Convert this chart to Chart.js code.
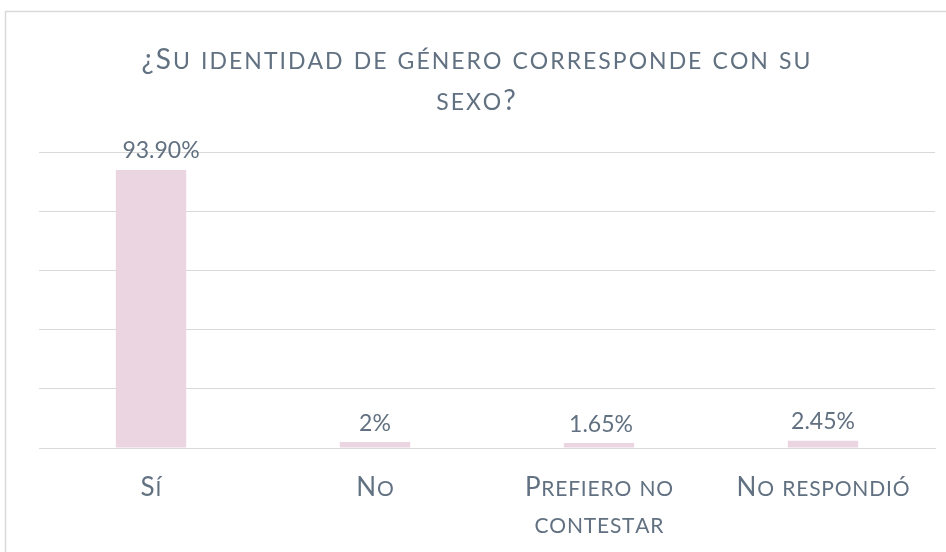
<!DOCTYPE html>
<html><head><meta charset="utf-8">
<script src="https://cdn.jsdelivr.net/npm/chart.js@4"></script>
<style>html,body{margin:0;padding:0;background:#fff}#wrap{width:946px;height:552px;position:relative}</style>
</head><body><div id="wrap"><canvas id="c" width="946" height="552"></canvas></div>
<script>
const titleLines = ['¿Su identidad de género corresponde con su', 'sexo?'];
const categories = [['Sí'], ['No'], ['Prefiero no', 'contestar'], ['No respondió']];
const values = [93.90, 2.00, 1.65, 2.45];
const valueLabels = ['93.90%', '2%', '1.65%', '2.45%'];
const yTicks = [0, 20, 40, 60, 80, 100];

const TEXT = '#617181';
const GRID = '#D9D9D9';
const BAR = '#EBD5E0';
const FAMILY = 'Lato, "Open Sans", sans-serif';
const WEIGHT = '400';

function drawSmallCaps(ctx, text, cx, baseline, capSize, smallSize, spacing) {
  const parts = [...text].map(ch => {
    const up = ch.toUpperCase();
    const size = (ch !== up) ? smallSize : capSize;
    ctx.font = WEIGHT + ' ' + size + 'px ' + FAMILY;
    return { ch: up, size, w: ctx.measureText(up).width };
  });
  const total = parts.reduce((s, p) => s + p.w, 0) + spacing * (parts.length - 1);
  let x = cx - total / 2;
  ctx.textAlign = 'left';
  ctx.textBaseline = 'alphabetic';
  parts.forEach(p => {
    ctx.font = WEIGHT + ' ' + p.size + 'px ' + FAMILY;
    ctx.fillText(p.ch, x, baseline);
    x += p.w + spacing;
  });
}

const deco = {
  id: 'deco',
  beforeDraw(chart) {
    const ctx = chart.ctx;
    ctx.save();
    ctx.fillStyle = '#fff';
    ctx.fillRect(0, 0, chart.width, chart.height);
    ctx.strokeStyle = GRID;
    ctx.lineWidth = 1.5;
    ctx.strokeRect(5.5, 11.5, 1000, 600);
    ctx.restore();
  },
  afterDatasetsDraw(chart, args, opts) {
    const ctx = chart.ctx;
    const meta = chart.getDatasetMeta(0);
    ctx.save();
    ctx.font = WEIGHT + ' 23px ' + FAMILY;
    ctx.fillStyle = TEXT;
    ctx.textAlign = 'center';
    ctx.textBaseline = 'middle';
    meta.data.forEach((bar, i) => ctx.fillText(valueLabels[i], bar.x + (opts.shift[i] || 0), bar.y - 19));
    ctx.restore();
  },
  afterDraw(chart) {
    const ctx = chart.ctx;
    const area = chart.chartArea;
    const xs = chart.scales.x;
    ctx.save();
    ctx.fillStyle = TEXT;
    titleLines.forEach((line, i) => drawSmallCaps(ctx, line, 476, 69 + i * 41, 28, 23, 2));
    categories.forEach((lines, i) => {
      const x = xs.getPixelForValue(i);
      lines.forEach((line, j) => drawSmallCaps(ctx, line, x, area.bottom + 48 + j * 37, 26, 21, 0.8));
    });
    ctx.restore();
  }
};

new Chart(document.getElementById('c'), {
  type: 'bar',
  data: {
    labels: categories,
    datasets: [{ data: values, backgroundColor: BAR, borderWidth: 0, barPercentage: 0.314, categoryPercentage: 1 }]
  },
  options: {
    responsive: false,
    devicePixelRatio: 1,
    animation: false,
    layout: { padding: { left: 39, right: 11, top: 152, bottom: 104 } },
    plugins: {
      legend: { display: false },
      tooltip: { enabled: false },
      title: { display: false },
      deco: { shift: [10, 0, 2, 0] }
    },
    scales: {
      x: {
        grid: { display: false, drawTicks: false },
        border: { display: true, color: GRID, width: 1 },
        ticks: { display: false }
      },
      y: {
        min: 0, max: 100,
        afterBuildTicks(scale) { scale.ticks = yTicks.map(v => ({ value: v })); },
        ticks: { display: false },
        grid: { color: GRID, drawTicks: false, lineWidth: 1 },
        border: { display: false }
      }
    }
  },
  plugins: [deco]
});
</script>
</body></html>
